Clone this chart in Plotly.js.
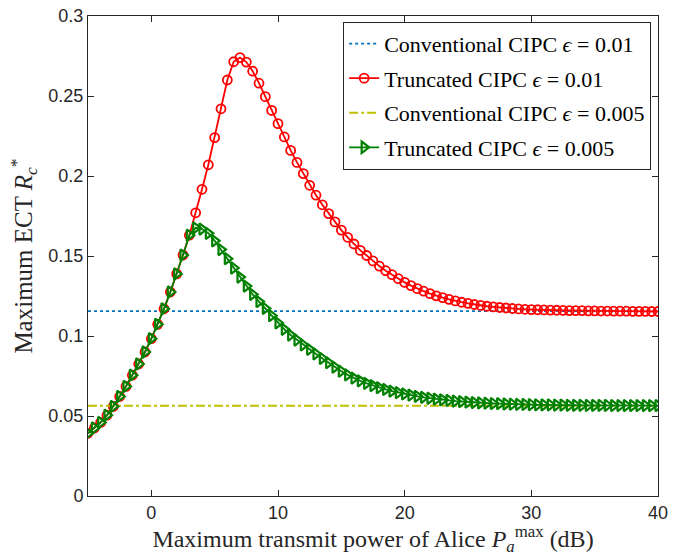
<!DOCTYPE html>
<html>
<head>
<meta charset="utf-8">
<script src="https://cdn.plot.ly/plotly-3.0.1.min.js"></script>
<style>html,body{margin:0;padding:0;background:#fff;}#plot{width:673px;height:556px;}</style>
</head>
<body>
<div id="plot"></div>
<script>
// Transmit power (dB), step 0.5 from -5 to 40
const powerDb = [];
for (let k = 0; k <= 90; k++) powerDb.push(-5 + 0.5 * k);

// Truncated CIPC eps = 0.01
const truncated001 = [
  0.0392, 0.0425, 0.0460, 0.0505, 0.0560, 0.0622, 0.0685, 0.0755, 0.0825, 0.0900,
  0.0983, 0.1073, 0.1170, 0.1275, 0.1388, 0.1506, 0.1630, 0.1770, 0.1917, 0.2070,
  0.2240, 0.2420, 0.2600, 0.2714, 0.2740, 0.2712, 0.2655, 0.2580, 0.2496, 0.2410,
  0.2327, 0.2244, 0.2160, 0.2085, 0.2015, 0.1942, 0.1880, 0.1820, 0.1765, 0.1713,
  0.1662, 0.1617, 0.1575, 0.1535, 0.1503, 0.1469, 0.1437, 0.1408, 0.1383, 0.1358,
  0.1335, 0.1315, 0.1296, 0.1280, 0.1265, 0.1251, 0.1240, 0.1229, 0.1219, 0.1211,
  0.1204, 0.1197, 0.1191, 0.1186, 0.1182, 0.1178, 0.1175, 0.1172, 0.1169, 0.1167,
  0.1165, 0.1164, 0.1163, 0.1162, 0.1161, 0.1160, 0.1159, 0.1158, 0.1158, 0.1157,
  0.1157, 0.1156, 0.1156, 0.1155, 0.1155, 0.1155, 0.1154, 0.1154, 0.1154, 0.1153,
  0.1153
];

// Truncated CIPC eps = 0.005
const truncated0005 = [
  0.0392, 0.0425, 0.0460, 0.0505, 0.0560, 0.0622, 0.0685, 0.0755, 0.0825, 0.0900,
  0.0983, 0.1073, 0.1170, 0.1275, 0.1388, 0.1506, 0.1630, 0.1676, 0.1668, 0.1642,
  0.1595, 0.1540, 0.1483, 0.1425, 0.1368, 0.1312, 0.1260, 0.1215, 0.1172, 0.1127,
  0.1082, 0.1042, 0.1006, 0.0975, 0.0944, 0.0917, 0.0888, 0.0860, 0.0833, 0.0805,
  0.0780, 0.0757, 0.0737, 0.0720, 0.0704, 0.0690, 0.0677, 0.0666, 0.0655, 0.0646,
  0.0638, 0.0631, 0.0623, 0.0617, 0.0611, 0.0606, 0.0601, 0.0597, 0.0593, 0.0590,
  0.0587, 0.0584, 0.0582, 0.0580, 0.0578, 0.0577, 0.0575, 0.0574, 0.0573, 0.0572,
  0.0571, 0.0570, 0.0569, 0.0569, 0.0568, 0.0568, 0.0567, 0.0567, 0.0567, 0.0566,
  0.0566, 0.0566, 0.0566, 0.0565, 0.0565, 0.0565, 0.0565, 0.0565, 0.0565, 0.0565,
  0.0565
];

// Conventional CIPC (constant)
const conventional001 = 0.1155;
const conventional0005 = 0.0564;

const xTicks = [0, 10, 20, 30, 40];
const yTicks = [0, 0.05, 0.1, 0.15, 0.2, 0.25, 0.3];
const yTickText = ['0', '0.05', '0.1', '0.15', '0.2', '0.25', '0.3'];
const legendNames = [
  'Conventional CIPC <i>ϵ</i> = 0.01',
  'Truncated CIPC <i>ϵ</i> = 0.01',
  'Conventional CIPC <i>ϵ</i> = 0.005',
  'Truncated CIPC <i>ϵ</i> = 0.005'
];

const traces = [
  {x: powerDb, y: powerDb.map(() => conventional001), name: legendNames[0], legendgroup: 'a',
   mode: 'lines', line: {color: '#0072BD', width: 1.8, dash: 'dot'}},
  {x: powerDb, y: truncated001, name: legendNames[1], legendgroup: 'b',
   mode: 'lines+markers', line: {color: '#FF0000', width: 1.8},
   marker: {symbol: 'circle-open', size: 9, color: '#FF0000', line: {width: 1.8}}},
  {x: powerDb, y: powerDb.map(() => conventional0005), name: legendNames[2], legendgroup: 'c',
   mode: 'lines', line: {color: '#BFBF00', width: 1.8, dash: 'dashdot'}},
  {x: powerDb, y: truncated0005, name: legendNames[3], legendgroup: 'd',
   mode: 'lines+markers', line: {color: '#008000', width: 1.8},
   marker: {symbol: 'triangle-right-open', size: 10, color: '#008000', line: {width: 2.2}}}
];

const axisCommon = {
  showgrid: false, zeroline: false, showline: true, mirror: 'ticks',
  linecolor: '#262626', linewidth: 1, ticks: 'inside', ticklen: 6, tickwidth: 1,
  tickcolor: '#262626',
  tickfont: {family: 'Liberation Sans, Arial, sans-serif', size: 18, color: '#262626'}
};

const layout = {
  width: 673, height: 556,
  margin: {l: 88, r: 15, t: 16, b: 60},
  paper_bgcolor: '#fff', plot_bgcolor: '#fff',
  showlegend: true,
  xaxis: Object.assign({}, axisCommon, {
    range: [-5, 40], tickvals: xTicks, ticktext: xTicks.map(String),
    title: {text: 'Maximum transmit power of Alice <i>P</i><sub><i>a</i></sub><sup>max</sup> (dB)',
            font: {family: 'Liberation Serif, serif', size: 24, color: '#262626'}, standoff: 7}
  }),
  yaxis: Object.assign({}, axisCommon, {
    range: [0, 0.3], tickvals: yTicks, ticktext: yTickText,
    title: {text: 'Maximum ECT <i>R</i><sub><i>c</i></sub><sup>*</sup>',
            font: {family: 'Liberation Serif, serif', size: 25, color: '#262626'}, standoff: 8}
  }),
  legend: {
    x: 0.988, y: 0.988, xanchor: 'right', yanchor: 'top',
    bgcolor: '#fff', bordercolor: '#262626', borderwidth: 1,
    font: {family: 'Liberation Serif, serif', size: 22, color: '#000'},
    tracegroupgap: 3, itemwidth: 30, traceorder: 'grouped'
  }
};

Plotly.newPlot('plot', traces, layout, {displayModeBar: false, staticPlot: true});
</script>
</body>
</html>
